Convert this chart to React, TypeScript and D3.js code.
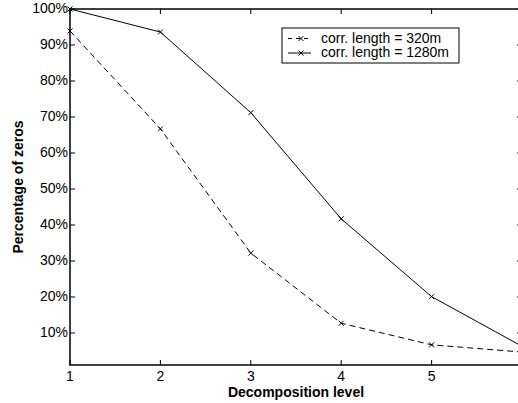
import React from "react";
import * as d3 from "d3";

const levels = [1, 2, 3, 4, 5, 6];
const zeros320 = [0.939, 0.667, 0.322, 0.127, 0.067, 0.047];
const zeros1280 = [1.0, 0.936, 0.712, 0.417, 0.201, 0.063];
const seriesNames = ["corr. length = 320m", "corr. length = 1280m"];
const xTicks = [1, 2, 3, 4, 5, 6];
const xTickLabels = ["1", "2", "3", "4", "5", ""];
const yTicks = [0.1, 0.2, 0.3, 0.4, 0.5, 0.6, 0.7, 0.8, 0.9, 1.0];

function App() {
  const width = 518;
  const height = 403;
  const MARGIN = { top: 9, left: 70 };
  const plotRight = 522;
  const plotBottom = 365;

  const xScale = d3.scaleLinear().domain([1, 6]).range([MARGIN.left, plotRight]);
  const yScale = d3.scaleLinear().domain([0.011, 1]).range([plotBottom, MARGIN.top]);

  const line = d3
    .line<number>()
    .x((_, i) => xScale(levels[i]))
    .y((d) => yScale(d));

  const series = [
    { name: seriesNames[0], values: zeros320, dash: "6,4" },
    { name: seriesNames[1], values: zeros1280, dash: undefined },
  ];

  const cross = (cx: number, cy: number, key: string) => (
    <path
      key={key}
      d={`M${cx - 2.5},${cy - 2.5}L${cx + 2.5},${cy + 2.5}M${cx - 2.5},${cy + 2.5}L${cx + 2.5},${cy - 2.5}`}
      stroke="#000"
      strokeWidth={1}
    />
  );

  const font = "'Liberation Sans', Arial, Helvetica, sans-serif";
  const tickLen = 5;

  return (
    <svg
      width={width}
      height={height}
      style={{ position: "absolute", left: 0, top: 0, background: "#fff" }}
      fontFamily={font}
    >
      <rect x={0} y={0} width={width} height={height} fill="#fff" />

      {/* frame */}
      <rect
        x={MARGIN.left}
        y={MARGIN.top}
        width={plotRight - MARGIN.left}
        height={plotBottom - MARGIN.top}
        fill="none"
        stroke="#000"
        strokeWidth={1.5}
      />

      {/* x ticks */}
      {xTicks.map((t, i) => (
        <g key={`x${t}`}>
          <line x1={xScale(t)} x2={xScale(t)} y1={plotBottom} y2={plotBottom - tickLen} stroke="#000" />
          <line x1={xScale(t)} x2={xScale(t)} y1={MARGIN.top} y2={MARGIN.top + tickLen} stroke="#000" />
          <text x={xScale(t)} y={plotBottom + 15.5} textAnchor="middle" fontSize={14}>
            {xTickLabels[i]}
          </text>
        </g>
      ))}

      {/* y ticks */}
      {yTicks.map((t) => (
        <g key={`y${t}`}>
          <line x1={MARGIN.left} x2={MARGIN.left + tickLen} y1={yScale(t)} y2={yScale(t)} stroke="#000" />
          <line x1={plotRight} x2={plotRight - tickLen} y1={yScale(t)} y2={yScale(t)} stroke="#000" />
          <text
            x={MARGIN.left - 2}
            y={yScale(t)}
            textAnchor="end"
            dominantBaseline="middle"
            fontSize={14}
          >
            {d3.format(".0%")(t)}
          </text>
        </g>
      ))}

      {/* series */}
      {series.map((s) => (
        <g key={s.name}>
          <path d={line(s.values) ?? ""} fill="none" stroke="#000" strokeWidth={1} strokeDasharray={s.dash} />
          {s.values.map((v, i) => cross(xScale(levels[i]), yScale(v), `${s.name}${i}`))}
        </g>
      ))}

      {/* legend */}
      <g>
        <rect x={282} y={28} width={177} height={35} fill="#fff" stroke="#000" strokeWidth={1} />
        {series.map((s, i) => {
          const ly = 38.5 + i * 14.5;
          return (
            <g key={`leg${i}`}>
              <line x1={288} x2={311} y1={ly} y2={ly} stroke="#000" strokeDasharray={s.dash ? "4,4" : undefined} />
              {cross(301, ly, `lc${i}`)}
              <text x={321} y={ly + 0.5} dominantBaseline="middle" fontSize={14}>
                {s.name}
              </text>
            </g>
          );
        })}
      </g>

      {/* axis labels */}
      <text
        x={296}
        y={397}
        textAnchor="middle"
        fontSize={14}
        fontWeight="bold"
      >
        Decomposition level
      </text>
      <text
        transform={`translate(23,${(MARGIN.top + plotBottom) / 2}) rotate(-90)`}
        textAnchor="middle"
        fontSize={14}
        fontWeight="bold"
      >
        Percentage of zeros
      </text>
    </svg>
  );
}

export default App;
